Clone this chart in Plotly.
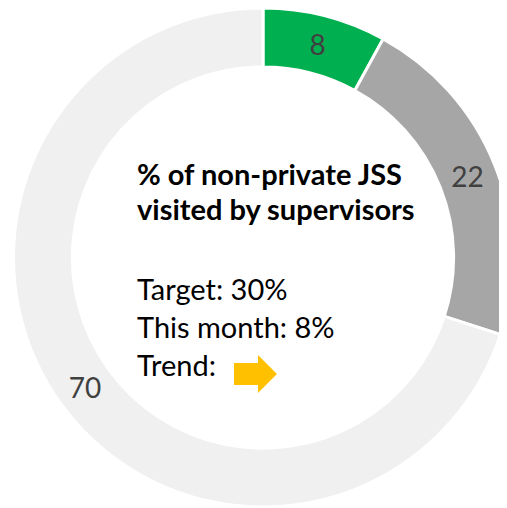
import plotly.graph_objects as go

labels = ["Visited", "Not visited (target gap)", "Remaining"]
values = [8, 22, 70]
colors = ["#00B050", "#A6A6A6", "#F0F0F0"]

title_lines = ["% of non-private JSS", "visited by supervisors"]
body_lines = ["Target: 30%", "This month: 8%", "Trend:"]

FW, FH = 515, 500      # figure size (page body has an 8px margin)
OFF = 8
FONT = "Lato, Carlito, sans-serif"

def fx(sx):
    return (sx - OFF) / FW

def fy(sy):
    return 1 - (sy - OFF) / FH

fig = go.Figure(go.Pie(
    labels=labels,
    values=values,
    hole=0.764,
    sort=False,
    direction="clockwise",
    rotation=0,
    marker=dict(colors=colors, line=dict(color="white", width=3)),
    textinfo="value",
    textposition="inside",
    insidetextorientation="horizontal",
    textfont=dict(family=FONT, size=28, color="#404040"),
    showlegend=False,
    hoverinfo="label+value",
    domain=dict(x=[fx(13.5), fx(512.5)], y=[max(0, fy(507)), 1.0]),
))

annotations = []
title_y = [173.5, 208.5]
for t, yy in zip(title_lines, title_y):
    annotations.append(dict(text="<b>" + t + "</b>", x=fx(135), y=fy(yy), xref="paper", yref="paper",
                            xanchor="left", yanchor="middle", showarrow=False,
                            font=dict(family=FONT, size=29, color="#000000")))
body_y = [288, 326, 364]
for t, yy in zip(body_lines, body_y):
    annotations.append(dict(text=t, x=fx(135), y=fy(yy), xref="paper", yref="paper",
                            xanchor="left", yanchor="middle", showarrow=False,
                            font=dict(family=FONT, size=29, color="#000000")))

# trend arrow (decoration)
ax = [234, 258, 258, 277, 258, 258, 234]
ay = [363, 363, 355, 374, 393, 385, 385]
path = "M " + " L ".join(f"{fx(x):.5f},{fy(y):.5f}" for x, y in zip(ax, ay)) + " Z"
shapes = [dict(type="path", xref="paper", yref="paper", path=path,
               fillcolor="#FFC000", line=dict(width=0))]

fig.update_layout(
    width=FW, height=FH,
    margin=dict(l=0, r=0, t=0, b=0),
    paper_bgcolor="white",
    plot_bgcolor="white",
    annotations=annotations,
    shapes=shapes,
)

fig.write_html("out.html")
